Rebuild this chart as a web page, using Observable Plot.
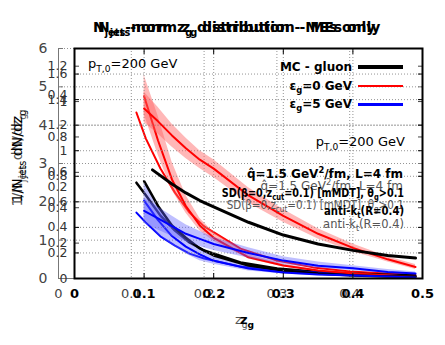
<!DOCTYPE html>
<html><head><meta charset="utf-8">
<script src="https://cdn.jsdelivr.net/npm/d3@7"></script>
<script src="https://cdn.jsdelivr.net/npm/@observablehq/plot@0.6"></script>
<style>
body{margin:0;background:#fff;}
#chart{position:relative;width:445px;height:345px;font-family:"DejaVu Sans";overflow:hidden;}
#chart svg{position:absolute;left:0;top:0;background:transparent;}
.t{position:absolute;white-space:nowrap;line-height:1;}
.b{font-weight:bold;color:#000;}
.g{color:#555;}
sub,sup{font-size:70%;line-height:0;}
.ln{position:absolute;}
</style></head>
<body><div id="chart"></div>
<script>
// ---- data ----
const xTicks = [0, 0.1, 0.2, 0.3, 0.4, 0.5];
// grey layer (y 0..6)
const gTicks = [0, 1, 2, 3, 4, 5, 6];
const zG = [0.107, 0.12, 0.14, 0.16, 0.18, 0.2, 0.25, 0.3, 0.35, 0.4, 0.45, 0.49];
const gRed   = [4.33, 3.65, 2.87, 2.24, 1.72, 1.36, 0.78, 0.47, 0.29, 0.18, 0.13, 0.10];
const gBlack = [2.50, 2.17, 1.64, 1.25, 0.94, 0.73, 0.42, 0.26, 0.18, 0.13, 0.10, 0.08];
const gBlue  = [1.72, 1.46, 1.10, 0.86, 0.65, 0.52, 0.31, 0.21, 0.16, 0.10, 0.08, 0.05];
// main bold layer (y 0..1.8)
const mTicks = [0, 0.2, 0.4, 0.6, 0.8, 1, 1.2, 1.4, 1.6];
const zM = [0.1, 0.12, 0.14, 0.16, 0.18, 0.2, 0.25, 0.3, 0.35, 0.4, 0.45, 0.49];
const mRed   = [1.33, 1.23, 1.12, 1.02, 0.93, 0.86, 0.65, 0.49, 0.35, 0.24, 0.15, 0.09];
const mRedLo = [1.22, 1.13, 1.03, 0.94, 0.86, 0.79, 0.59, 0.44, 0.31, 0.21, 0.13, 0.07];
const mRedHi = [1.46, 1.34, 1.21, 1.10, 1.00, 0.93, 0.71, 0.54, 0.39, 0.27, 0.17, 0.11];
const zMBlack = [0.112, 0.14, 0.16, 0.18, 0.2, 0.25, 0.3, 0.35, 0.4, 0.45, 0.49];
const mBlack = [0.85, 0.74, 0.67, 0.61, 0.56, 0.44, 0.34, 0.27, 0.22, 0.18, 0.16];
const mBlue   = [0.53, 0.47, 0.41, 0.35, 0.31, 0.27, 0.20, 0.14, 0.10, 0.08, 0.05, 0.04];
const mBlueLo = [0.43, 0.38, 0.33, 0.29, 0.25, 0.22, 0.16, 0.11, 0.08, 0.06, 0.04, 0.03];
const mBlueHi = [0.63, 0.56, 0.49, 0.42, 0.37, 0.32, 0.24, 0.17, 0.13, 0.10, 0.07, 0.05];
// steep layer (y 0..1.3)
const sTicks = [0, 0.2, 0.4, 0.6, 0.8, 1, 1.2];
const sRed   = [1.03, 0.78, 0.56, 0.41, 0.30, 0.23, 0.12, 0.073, 0.045, 0.028, 0.017, 0.011];
const sRedLo = [0.93, 0.70, 0.50, 0.37, 0.27, 0.21, 0.11, 0.065, 0.040, 0.025, 0.015, 0.010];
const sRedHi = [1.15, 0.92, 0.66, 0.47, 0.34, 0.26, 0.135, 0.080, 0.050, 0.032, 0.020, 0.013];
const sBlack = [0.55, 0.41, 0.30, 0.23, 0.17, 0.13, 0.073, 0.045, 0.028, 0.017, 0.011, 0.011];
const sBlue   = [0.44, 0.33, 0.24, 0.18, 0.136, 0.10, 0.056, 0.034, 0.023, 0.017, 0.011, 0.006];
const sBlueLo = [0.34, 0.25, 0.19, 0.14, 0.10, 0.080, 0.042, 0.025, 0.016, 0.012, 0.007, 0.004];
const sBlueHi = [0.54, 0.41, 0.30, 0.22, 0.17, 0.125, 0.070, 0.043, 0.030, 0.022, 0.015, 0.008];
// extra overlapped axis (y 0..0.5)
const eTicks = [0.2, 0.4];

const fmt = d => String(d);
const tbl = (z, ...cols) => z.map((zz, i) => ({z: zz, v: cols[0][i], lo: cols[1] ? cols[1][i] : null, hi: cols[2] ? cols[2][i] : null}));
const chart = document.getElementById("chart");
const W = 445, H = 345;
const base = {width: W, height: H, marginTop: 48, marginBottom: 67, marginRight: 23,
  style: {fontFamily: "DejaVu Sans", fontSize: "13px", background: "transparent", overflow: "visible"}};
function add(p) { chart.appendChild(p); }

const inTicksY = (ticks, color) => [
  Plot.axisY({anchor: "left", ticks, tickSize: -5, tickFormat: () => "", label: null, stroke: color}),
  Plot.axisY({anchor: "right", ticks, tickSize: -5, tickFormat: () => "", label: null, stroke: color})
];
const inTicksX = (color) => [
  Plot.axisX({anchor: "bottom", ticks: xTicks, tickSize: -5, tickFormat: () => "", label: null, stroke: color}),
  Plot.axisX({anchor: "top", ticks: xTicks, tickSize: -5, tickFormat: () => "", label: null, stroke: color})
];

// grey layer
add(Plot.plot({...base, marginLeft: 58,
  x: {domain: [0, 0.5]}, y: {domain: [0, 6]},
  marks: [
    Plot.gridX(xTicks.slice(1, 5), {stroke: "#888", strokeDasharray: "1,2", strokeOpacity: 0.9}),
    Plot.gridY(gTicks.slice(1), {stroke: "#888", strokeDasharray: "1,2", strokeOpacity: 0.9}),
    Plot.line(tbl(zG, gRed), {x: "z", y: "v", stroke: "#ff0000", strokeWidth: 2}),
    Plot.line(tbl(zG, gBlack), {x: "z", y: "v", stroke: "#000", strokeWidth: 2.5}),
    Plot.line(tbl(zG, gBlue), {x: "z", y: "v", stroke: "#0000ff", strokeWidth: 2}),
    Plot.ruleX([0], {stroke: "#777"}),
    Plot.ruleY([0], {stroke: "#777"}),
    Plot.axisX({ticks: xTicks, tickSize: 0, tickPadding: 10, fill: "#444", label: null, tickFormat: d => d === 0.5 ? "" : fmt(d)}),
    Plot.axisY({ticks: gTicks, tickSize: 0, tickPadding: 11, fill: "#444", label: null, fontSize: 14, tickFormat: fmt}),
    ...inTicksY(gTicks, "#777")
  ]}));

// extra overlapped axis
add(Plot.plot({...base, marginLeft: 74,
  x: {domain: [0, 0.5], axis: null}, y: {domain: [0, 0.5]},
  marks: [Plot.axisY({ticks: eTicks, tickSize: 0, tickPadding: 7, fill: "#333", label: null, fontSize: 12.5, tickFormat: fmt})]}));

// steep layer
add(Plot.plot({...base, marginLeft: 74,
  x: {domain: [0, 0.5], axis: null}, y: {domain: [0, 1.3]},
  marks: [
    Plot.areaY(tbl(zM, sRed, sRedLo, sRedHi), {x: "z", y1: "lo", y2: "hi", fill: "#ff6060", fillOpacity: 0.45}),
    Plot.areaY(tbl(zM, sBlue, sBlueLo, sBlueHi), {x: "z", y1: "lo", y2: "hi", fill: "#6060ff", fillOpacity: 0.4}),
    Plot.line(tbl(zM, sRed), {x: "z", y: "v", stroke: "#ff0000", strokeWidth: 2}),
    Plot.line(tbl(zM, sBlack), {x: "z", y: "v", stroke: "#000", strokeWidth: 2.5}),
    Plot.line(tbl(zM, sBlue), {x: "z", y: "v", stroke: "#0000ff", strokeWidth: 2}),
    Plot.axisY({ticks: sTicks.slice(1), tickSize: 0, tickPadding: 7, fill: "#333", label: null, fontSize: 12.5, tickFormat: fmt}),
    ...inTicksY(sTicks, "#444")
  ]}));

// main bold layer
add(Plot.plot({...base, marginLeft: 74,
  x: {domain: [0, 0.5]}, y: {domain: [0, 1.8]},
  marks: [
    Plot.gridX(xTicks.slice(1, 5), {stroke: "#888", strokeDasharray: "1,2", strokeOpacity: 0.9}),
    Plot.gridY(mTicks.slice(1), {stroke: "#888", strokeDasharray: "1,2", strokeOpacity: 0.9}),
    Plot.areaY(tbl(zM, mRed, mRedLo, mRedHi), {x: "z", y1: "lo", y2: "hi", fill: "#ff6060", fillOpacity: 0.45}),
    Plot.areaY(tbl(zM, mBlue, mBlueLo, mBlueHi), {x: "z", y1: "lo", y2: "hi", fill: "#6060ff", fillOpacity: 0.4}),
    Plot.line(tbl(zM, mRed), {x: "z", y: "v", stroke: "#ff0000", strokeWidth: 2}),
    Plot.line(tbl(zMBlack, mBlack), {x: "z", y: "v", stroke: "#000", strokeWidth: 3}),
    Plot.line(tbl(zM, mBlue), {x: "z", y: "v", stroke: "#0000ff", strokeWidth: 2}),
    Plot.frame({stroke: "#000", strokeWidth: 2}),
    Plot.axisX({ticks: xTicks, tickSize: 0, tickPadding: 10, fontWeight: "bold", fill: "#000", label: null, tickFormat: fmt}),
    Plot.axisY({ticks: mTicks, tickSize: 0, tickPadding: 7, fill: "#333", label: null, fontSize: 12.5, tickFormat: fmt}),
    ...inTicksY(mTicks, "#000"),
    ...inTicksX("#000")
  ]}));

// ---- texts ----
const texts = [
  {html: 'N<sub>jets</sub>-norm z<sub>g</sub> distribution - MEs only', cls: "b", left: 93, top: 20, size: 14},
  {html: 'N<sub>jets</sub>-norm z<sub>g</sub> distribution - MEs only', cls: "b", left: 98, top: 20, size: 14},
  {html: 'p<sub>T,0</sub>=200 GeV', cls: "", left: 88, top: 57, size: 13},
  {html: 'p<sub>T,0</sub>=200 GeV', cls: "", right: 40, top: 135, size: 13},
  {html: 'MC - gluon', cls: "b", right: 93, top: 61, size: 12},
  {html: '&epsilon;<sub>g</sub>=0 GeV', cls: "b", right: 93, top: 80, size: 12},
  {html: '&epsilon;<sub>g</sub>=5 GeV', cls: "b", right: 93, top: 98, size: 12},
  {html: 'q&#770;=1.5 GeV<sup>2</sup>/fm, L=4 fm', cls: "b", right: 42, top: 168, size: 12},
  {html: 'q&#770;=1.5 GeV<sup>2</sup>/fm, L=4 fm', cls: "g", right: 42, top: 180, size: 12},
  {html: 'SD(&beta;=0,z<sub>cut</sub>=0.1) [mMDT], &theta;<sub>g</sub>&gt;0.1', cls: "b", right: 41, top: 188, size: 11.5, sx: 0.84},
  {html: 'SD(&beta;=0,z<sub>cut</sub>=0.1) [mMDT], &theta;<sub>g</sub>&gt;0.1', cls: "g", right: 41, top: 200, size: 11.5, sx: 0.9},
  {html: 'anti-k<sub>t</sub>(R=0.4)', cls: "b", right: 41, top: 206, size: 11.5, sx: 0.88},
  {html: 'anti-k<sub>t</sub>(R=0.4)', cls: "g", right: 41, top: 219, size: 11.5},
  {html: 'z<sub>g</sub>', cls: "g", left: 235, top: 313, size: 13},
  {html: 'z<sub>g</sub>', cls: "b", left: 240, top: 313, size: 13}
];
for (const t of texts) {
  const d = document.createElement("div");
  d.className = "t " + t.cls;
  d.innerHTML = t.html;
  d.style.fontSize = t.size + "px";
  d.style.top = t.top + "px";
  if (t.left != null) d.style.left = t.left + "px"; else d.style.right = t.right + "px";
  if (t.sx) { d.style.transform = `scaleX(${t.sx})`; d.style.transformOrigin = "right center"; }
  chart.appendChild(d);
}
// y label (two overlapping copies)
for (const [cy, cls] of [[160, "g"], [156, ""]]) {
  const d = document.createElement("div");
  d.className = "t " + cls;
  d.innerHTML = '1/N<sub>jets</sub> dN/dz<sub>g</sub>';
  d.style.fontSize = "14px";
  d.style.left = "17px"; d.style.top = cy + "px";
  d.style.transform = "translate(-50%,-50%) rotate(-90deg)";
  chart.appendChild(d);
}
// legend lines
const legend = [["#000", 67, 3.5], ["#ff0000", 86, 2.5], ["#0000ff", 104, 3]];
for (const [c, y, w] of legend) {
  const d = document.createElement("div");
  d.className = "ln";
  d.style.left = "358px"; d.style.width = "45px";
  d.style.top = (y - w / 2) + "px"; d.style.height = w + "px";
  d.style.background = c;
  chart.appendChild(d);
}
</script></body></html>
